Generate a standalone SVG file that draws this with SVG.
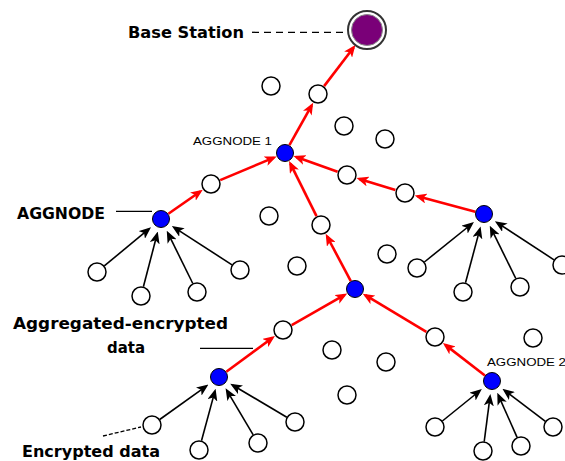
<svg xmlns="http://www.w3.org/2000/svg" width="565" height="461" viewBox="0 0 565 461">
  <style>
    .node { fill: #ffffff; stroke: #000000; stroke-width: 1.5; }
    .agg { fill: #0000ff; stroke: #000000; stroke-width: 1; }
    .red { stroke: #ff0000; stroke-width: 2.6; fill: none; marker-end: url(#arrow-red); }
    .blk { stroke: #000000; stroke-width: 1.6; fill: none; marker-end: url(#arrow-black); }
    .lead { stroke: #000000; stroke-width: 1.3; fill: none; }
    .dash { stroke-dasharray: 7 5; }
    .big { font-family: "DejaVu Sans", Verdana, sans-serif; font-weight: bold; fill: #000000; }
    .small { font-family: "Liberation Sans", Arial, sans-serif; font-size: 11px; fill: #000000; }
  </style>
  <defs>
    <marker id="arrow-red" markerUnits="userSpaceOnUse" viewBox="0 0 12 10" markerWidth="12" markerHeight="10" refX="9" refY="5" orient="auto">
      <path d="M0,0 L12,5 L0,10 L3,5 z" fill="#ff0000"/>
    </marker>
    <marker id="arrow-black" markerUnits="userSpaceOnUse" viewBox="0 0 12 10" markerWidth="12" markerHeight="10" refX="9" refY="5" orient="auto">
      <path d="M0,0 L12,5 L0,10 L3,5 z" fill="#000000"/>
    </marker>
  </defs>
  <rect width="565" height="461" fill="#ffffff"/>

  <!-- connectors -->
  <g id="connectors">
    <!-- aggregated path towards the base station -->
    <line class="red" x1="324.1" y1="86.1" x2="353.6" y2="47.5"/>
    <line class="red" x1="289.4" y1="145.1" x2="311.7" y2="105.3"/>
    <line class="red" x1="168.4" y1="213.8" x2="200.3" y2="191.5"/>
    <line class="red" x1="220.2" y1="180.1" x2="273.9" y2="157.6"/>
    <line class="red" x1="337.6" y1="171.7" x2="296.3" y2="157.0"/>
    <line class="red" x1="395.4" y1="190.0" x2="359.4" y2="178.9"/>
    <line class="red" x1="475.3" y1="211.7" x2="417.6" y2="196.3"/>
    <line class="red" x1="316.5" y1="216.1" x2="290.4" y2="163.7"/>
    <line class="red" x1="350.8" y1="281.1" x2="327.1" y2="236.5"/>
    <line class="red" x1="291.7" y1="325.1" x2="344.6" y2="294.9"/>
    <line class="red" x1="226.3" y1="371.7" x2="272.5" y2="337.7"/>
    <line class="red" x1="426.4" y1="331.9" x2="365.3" y2="295.2"/>
    <line class="red" x1="484.9" y1="375.5" x2="445.3" y2="344.9"/>
    <!-- encrypted readings into aggregator nodes -->
    <line class="blk" x1="104.3" y1="265.9" x2="148.7" y2="229.2"/>
    <line class="blk" x1="143.4" y1="286.8" x2="157.0" y2="234.5"/>
    <line class="blk" x1="192.8" y1="283.5" x2="168.1" y2="233.4"/>
    <line class="blk" x1="232.0" y1="264.8" x2="174.4" y2="227.7"/>
    <line class="blk" x1="424.4" y1="262.0" x2="471.6" y2="224.0"/>
    <line class="blk" x1="465.5" y1="282.8" x2="479.8" y2="229.4"/>
    <line class="blk" x1="515.8" y1="278.5" x2="491.1" y2="228.4"/>
    <line class="blk" x1="554.0" y1="259.8" x2="497.4" y2="222.8"/>
    <line class="blk" x1="159.7" y1="419.5" x2="206.0" y2="386.3"/>
    <line class="blk" x1="201.5" y1="440.8" x2="214.8" y2="391.6"/>
    <line class="blk" x1="253.2" y1="434.8" x2="227.1" y2="390.8"/>
    <line class="blk" x1="286.8" y1="417.2" x2="232.8" y2="385.2"/>
    <line class="blk" x1="442.4" y1="421.0" x2="479.5" y2="391.0"/>
    <line class="blk" x1="484.2" y1="441.6" x2="490.0" y2="396.9"/>
    <line class="blk" x1="517.1" y1="437.3" x2="498.5" y2="395.6"/>
    <line class="blk" x1="545.4" y1="421.3" x2="504.8" y2="390.6"/>
    <!-- label leaders -->
    <line class="lead dash" x1="252" y1="32.3" x2="347" y2="32.3"/>
    <line class="lead" x1="116" y1="211.3" x2="152" y2="211.3"/>
    <line class="lead" x1="200" y1="348.3" x2="253" y2="348.3"/>
    <line class="lead" stroke-dasharray="4 2" x1="103" y1="436" x2="141" y2="427"/>
  </g>

  <!-- base station -->
  <g id="base-station">
    <circle cx="367" cy="30" r="19" fill="#ffffff" stroke="#333333" stroke-width="2"/>
    <circle cx="367" cy="30" r="15.5" fill="#7a0078" stroke="#888888" stroke-width="1"/>
    <text class="big" x="128" y="37.5" font-size="16.5" textLength="116" lengthAdjust="spacingAndGlyphs">Base Station</text>
  </g>

  <!-- aggregator nodes -->
  <g id="aggnode-1">
    <circle class="agg" cx="285" cy="153" r="8.5"/>
    <text class="small" x="193" y="144.5" textLength="79" lengthAdjust="spacingAndGlyphs">AGGNODE 1</text>
  </g>
  <g id="aggnode-left">
    <circle class="agg" cx="161" cy="219" r="8.5"/>
    <text class="big" x="17" y="219" font-size="16.5" textLength="88" lengthAdjust="spacingAndGlyphs">AGGNODE</text>
  </g>
  <g id="aggnode-right"><circle class="agg" cx="484" cy="214" r="8.5"/></g>
  <g id="aggnode-middle"><circle class="agg" cx="355" cy="289" r="8.5"/></g>
  <g id="aggnode-bottom">
    <circle class="agg" cx="219" cy="377" r="8.5"/>
  </g>
  <g id="aggnode-2">
    <circle class="agg" cx="492" cy="381" r="8.5"/>
    <text class="small" x="487" y="366" textLength="79" lengthAdjust="spacingAndGlyphs">AGGNODE 2</text>
  </g>

  <!-- relay nodes on the aggregation path -->
  <g id="relay-1"><circle class="node" cx="318" cy="94" r="9"/></g>
  <g id="relay-2"><circle class="node" cx="211" cy="184" r="9"/></g>
  <g id="relay-3"><circle class="node" cx="347" cy="175" r="9"/></g>
  <g id="relay-4"><circle class="node" cx="405" cy="193" r="9"/></g>
  <g id="relay-5"><circle class="node" cx="321" cy="225" r="9"/></g>
  <g id="relay-6">
    <circle class="node" cx="283" cy="330" r="9"/>
    <text class="big" x="13" y="329" font-size="16" textLength="215" lengthAdjust="spacingAndGlyphs">Aggregated-encrypted</text>
    <text class="big" x="107" y="353" font-size="16" textLength="38" lengthAdjust="spacingAndGlyphs">data</text>
  </g>
  <g id="relay-7"><circle class="node" cx="435" cy="337" r="9"/></g>

  <!-- sensing nodes -->
  <g id="sensor-l1"><circle class="node" cx="97" cy="272" r="9"/></g>
  <g id="sensor-l2"><circle class="node" cx="141" cy="296" r="9"/></g>
  <g id="sensor-l3"><circle class="node" cx="197" cy="292" r="9"/></g>
  <g id="sensor-l4"><circle class="node" cx="240" cy="270" r="9"/></g>
  <g id="sensor-r1"><circle class="node" cx="417" cy="268" r="9"/></g>
  <g id="sensor-r2"><circle class="node" cx="463" cy="292" r="9"/></g>
  <g id="sensor-r3"><circle class="node" cx="520" cy="287" r="9"/></g>
  <g id="sensor-r4"><circle class="node" cx="562" cy="265" r="9"/></g>
  <g id="sensor-b1">
    <circle class="node" cx="152" cy="425" r="9"/>
    <text class="big" x="22" y="457" font-size="16" textLength="138" lengthAdjust="spacingAndGlyphs">Encrypted data</text>
  </g>
  <g id="sensor-b2"><circle class="node" cx="199" cy="450" r="9"/></g>
  <g id="sensor-b3"><circle class="node" cx="258" cy="443" r="9"/></g>
  <g id="sensor-b4"><circle class="node" cx="295" cy="422" r="9"/></g>
  <g id="sensor-c1"><circle class="node" cx="435" cy="427" r="9"/></g>
  <g id="sensor-c2"><circle class="node" cx="483" cy="451" r="9"/></g>
  <g id="sensor-c3"><circle class="node" cx="521" cy="446" r="9"/></g>
  <g id="sensor-c4"><circle class="node" cx="553" cy="427" r="9"/></g>

  <!-- idle nodes -->
  <g id="idle-1"><circle class="node" cx="271" cy="86" r="9"/></g>
  <g id="idle-2"><circle class="node" cx="344" cy="126" r="9"/></g>
  <g id="idle-3"><circle class="node" cx="385" cy="139" r="9"/></g>
  <g id="idle-4"><circle class="node" cx="269" cy="216" r="9"/></g>
  <g id="idle-5"><circle class="node" cx="297" cy="266" r="9"/></g>
  <g id="idle-6"><circle class="node" cx="387" cy="254" r="9"/></g>
  <g id="idle-7"><circle class="node" cx="332" cy="350" r="9"/></g>
  <g id="idle-8"><circle class="node" cx="386" cy="362" r="9"/></g>
  <g id="idle-9"><circle class="node" cx="347" cy="395" r="9"/></g>
  <g id="idle-10"><circle class="node" cx="533" cy="338" r="9"/></g>
</svg>
